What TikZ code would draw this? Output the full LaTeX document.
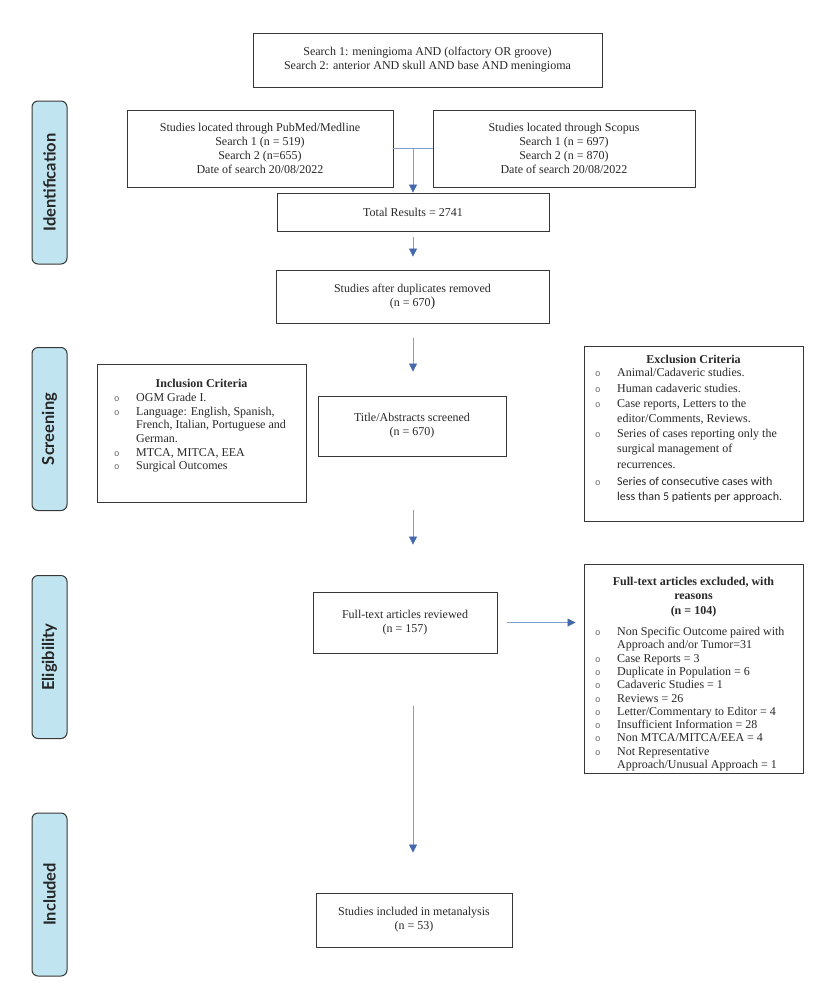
\documentclass[tikz,border=0pt]{standalone}
\usepackage{fontspec}
\setmainfont{Liberation Serif}
\newfontfamily\labfont{Lato}
\newfontfamily\calfont{Carlito}
\newfontfamily\monofnt{Liberation Mono}
\usetikzlibrary{arrows.meta,calc}
\definecolor{arrline}{RGB}{130,158,205}
\definecolor{arrhead}{RGB}{68,104,170}
\definecolor{phasefill}{RGB}{192,228,240}
\definecolor{boxline}{RGB}{55,55,55}
\definecolor{txt}{RGB}{40,40,40}
\newcommand{\bul}{\makebox[22pt][l]{\monofnt\fontsize{9}{10}\selectfont\textcolor{black!60}{o}}}
\newcommand{\nobul}{\hspace*{22pt}}
\begin{document}
\begin{tikzpicture}[x=1pt,y=-1pt,
  box/.style={draw=boxline,line width=0.9pt,fill=white,align=center,inner sep=0pt,text=txt,font=\fontsize{12}{14}\selectfont},
  phase/.style={draw=boxline,line width=1pt,fill=phasefill,rounded corners=6pt,minimum width=163pt,minimum height=35pt,inner sep=0pt,rotate=90,text=black!85,font=\labfont\bfseries\fontsize{16.5}{18}\selectfont},
  arr/.style={draw=arrline,line width=0.8pt,-{Triangle[width=8pt,length=8pt,color=arrhead]}},
  conn/.style={draw=arrline,line width=0.8pt},
  listtext/.style={anchor=north west,inner sep=0pt,align=left,text=txt,font=\fontsize{12}{13.6}\selectfont},
  headtext/.style={inner sep=0pt,align=center,text=txt,font=\bfseries\fontsize{12}{14.2}\selectfont}
]
\useasboundingbox (0,0) rectangle (822,989);
% phases
\node[phase] (ph1) at (49.5,182.5) {Identification};
\node[phase] (ph2) at (49.5,429) {Screening};
\node[phase] (ph3) at (49.5,657) {Eligibility};
\node[phase] (ph4) at (49.5,894.5) {Included};
% main boxes
\node[box,minimum width=349pt,minimum height=54pt] (search) at (427.5,60)
  {Search 1: meningioma AND (olfactory OR groove)\\Search 2: anterior AND skull AND base AND meningioma};
\node[box,minimum width=266pt,minimum height=77pt] (pub) at (260,148.5)
  {Studies located through PubMed/Medline\\Search 1 (n = 519)\\Search 2 (n=655)\\Date of search 20/08/2022};
\node[box,minimum width=262pt,minimum height=77pt] (sco) at (564,148.5)
  {Studies located through Scopus\\Search 1 (n = 697)\\Search 2 (n = 870)\\Date of search 20/08/2022};
\node[box,minimum width=272pt,minimum height=38pt] (tot) at (413,212) {Total Results = 2741};
\node[box,minimum width=273pt,minimum height=53pt] (dup) at (412.5,296.5)
  {Studies after duplicates removed\\(n = 670{\fontsize{14}{14}\selectfont)}};
\node[box,minimum width=188pt,minimum height=60pt] (title) at (412,426)
  {Title/Abstracts screened\\(n = 670)};
\node[box,minimum width=184pt,minimum height=61pt] (full) at (405,622.5)
  {Full-text articles reviewed\\(n = 157)};
\node[box,minimum width=196pt,minimum height=54pt] (inc) at (414,920)
  {Studies included in metanalysis\\(n = 53)};
% side boxes
\node[box,minimum width=209pt,minimum height=138pt] (incl) at (201.5,433) {};
\node[box,minimum width=219pt,minimum height=175pt] (excl) at (693.5,433.5) {};
\node[box,minimum width=219pt,minimum height=209pt] (fex) at (693.5,668.5) {};
% side box texts
\node[headtext] (inclh) at (201.5,383) {Inclusion Criteria};
\node[listtext] (inclt) at (114,392) {\begin{tabular}{@{}l@{}}
\bul OGM Grade I.\\
\bul Language: English, Spanish,\\
\nobul French, Italian, Portuguese and\\
\nobul German.\\
\bul MTCA, MITCA, EEA\\
\bul Surgical Outcomes
\end{tabular}};
\node[headtext] (exclh) at (693.5,359) {Exclusion Criteria};
\node[listtext,font=\fontsize{12}{15.2}\selectfont] (exclt) at (595,366) {\begin{tabular}{@{}l@{}}
\bul Animal/Cadaveric studies.\\
\bul Human cadaveric studies.\\
\bul Case reports, Letters to the\\
\nobul editor/Comments, Reviews.\\
\bul Series of cases reporting only the\\
\nobul surgical management of\\
\nobul recurrences.\\[2pt]
\bul {\calfont Series of consecutive cases with}\\[0.5pt]
\nobul {\calfont less than 5 patients per approach.}
\end{tabular}};
\node[headtext] (fexh) at (693.5,597) {Full-text articles excluded, with\\reasons\\(n = 104)};
\node[listtext,font=\fontsize{12}{13.3}\selectfont] (fext) at (595,626) {\begin{tabular}{@{}l@{}}
\bul Non Specific Outcome paired with\\
\nobul Approach and/or Tumor=31\\
\bul Case Reports = 3\\
\bul Duplicate in Population = 6\\
\bul Cadaveric Studies = 1\\
\bul Reviews = 26\\
\bul Letter/Commentary to Editor = 4\\
\bul Insufficient Information = 28\\
\bul Non MTCA/MITCA/EEA = 4\\
\bul Not Representative\\
\nobul Approach/Unusual Approach = 1
\end{tabular}};
% connectors
\coordinate (m) at ($(pub.east)!0.5!(sco.west)$);
\draw[conn] (pub.east) -- (sco.west);
\draw[arr] (m) -- (m |- tot.north);
\coordinate (a2e) at (tot.south |- dup.north);
\draw[arr] ([yshift=-6pt]tot.south) -- ([yshift=13pt]a2e);
\coordinate (a3e) at (tot.south |- title.north);
\coordinate (a3s) at (tot.south |- dup.south);
\draw[arr] ([yshift=-15pt]a3s) -- ([yshift=24pt]a3e);
\coordinate (a4s) at (tot.south |- title.south);
\coordinate (a4e) at (tot.south |- full.north);
\draw[arr] ([yshift=-54pt]a4s) -- ([yshift=47pt]a4e);
\coordinate (a5e) at (fex.west |- full.east);
\draw[arr] ([xshift=10pt]full.east) -- ([xshift=-8pt]a5e);
\coordinate (a6s) at (tot.south |- full.south);
\coordinate (a6e) at (tot.south |- inc.north);
\draw[arr] ([yshift=-53pt]a6s) -- ([yshift=40pt]a6e);
\end{tikzpicture}
\end{document}
